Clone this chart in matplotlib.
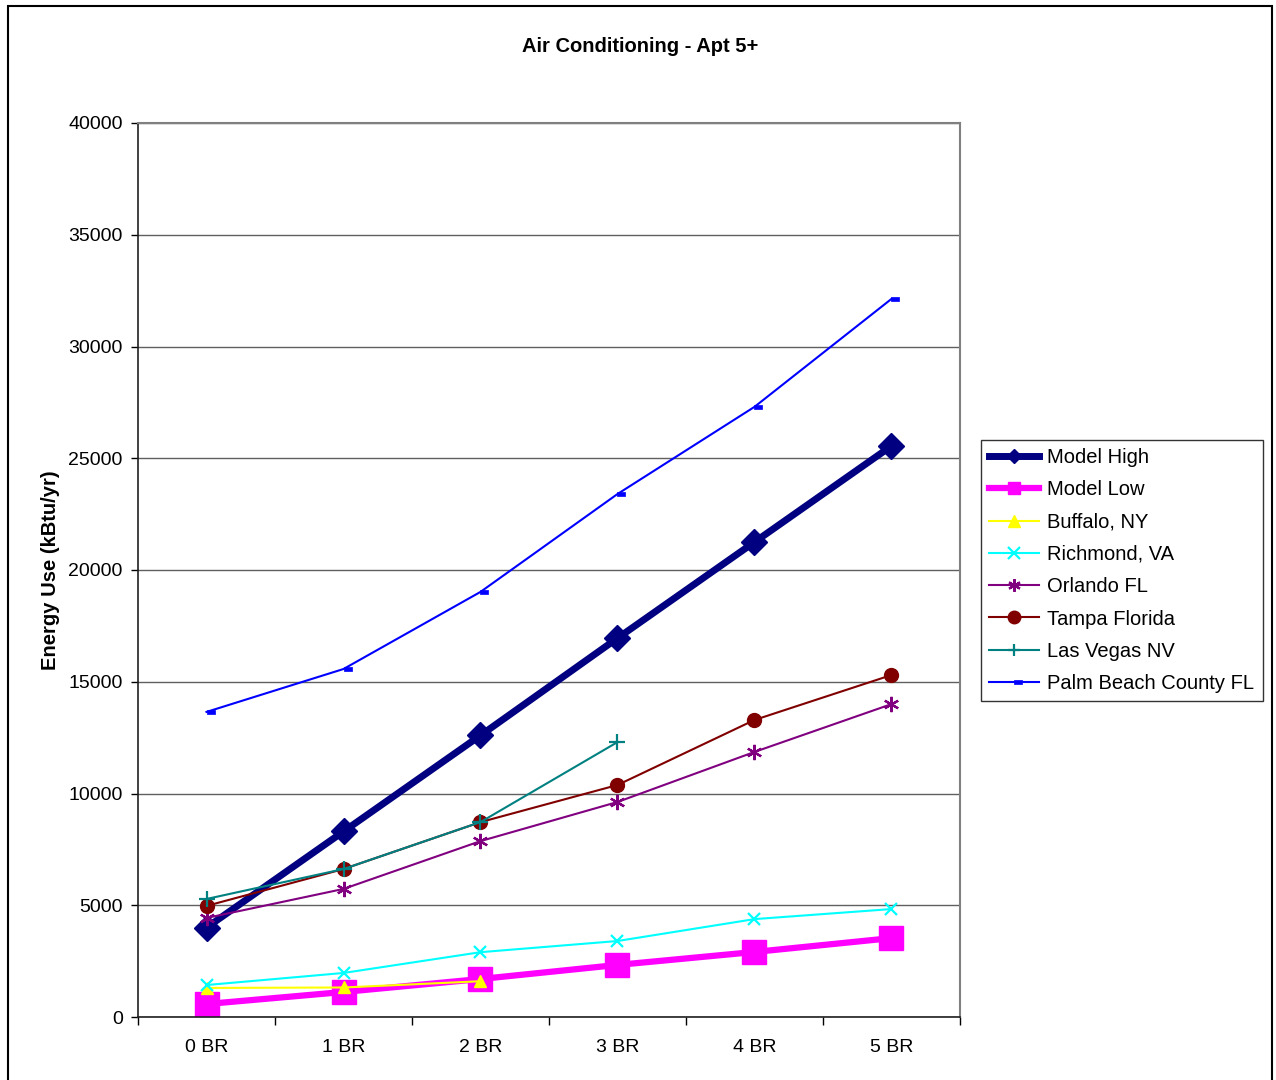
import matplotlib
matplotlib.use("Agg")
from matplotlib import pyplot as plt
from matplotlib.patches import Rectangle
import numpy as np

plt.rcParams['font.family'] = ['Liberation Sans', 'DejaVu Sans']

categories = ['0 BR', '1 BR', '2 BR', '3 BR', '4 BR', '5 BR']

model_high = [4000, 8300, 12600, 16950, 21250, 25550]
model_low = [580, 1120, 1700, 2330, 2910, 3530]
buffalo = [1300, 1320, 1600]
richmond = [1430, 1970, 2900, 3400, 4380, 4830]
orlando = [4430, 5730, 7870, 9620, 11860, 14000]
tampa = [4970, 6620, 8720, 10380, 13290, 15300]
las_vegas = [5280, 6620, 8720, 12300]
palm_beach = [13650, 15570, 19020, 23400, 27300, 32130]

# small bar marker sitting to the right of the point
dash = [(0, -0.3), (1, -0.3), (1, 0.3), (0, 0.3), (0, -0.3)]

# name, values, colour, line width, marker, marker size, edge width, legend marker size
series = [
	('Model High', model_high, '#000080', 5.0, 'D', 13, 1, 7),
	('Model Low', model_low, '#FF00FF', 4.5, 's', 17, 1, 9),
	('Buffalo, NY', buffalo, '#FFFF00', 1.5, '^', 9, 1, 8),
	('Richmond, VA', richmond, '#00FFFF', 1.5, 'x', 9, 1.6, 8),
	('Orlando FL', orlando, '#800080', 1.5, (6, 2, 0), 11, 1.6, 9),
	('Tampa Florida', tampa, '#800000', 1.5, 'o', 10, 1, 9),
	('Las Vegas NV', las_vegas, '#008080', 1.5, '+', 11, 1.6, 9),
	('Palm Beach County FL', palm_beach, '#0000FF', 1.5, dash, 11, 0.5, 11),
]

fig = plt.figure(figsize=(12.76, 10.8), dpi=100)
ax = fig.add_axes([138/1276, 63/1080, 822/1276, 894/1080])

for name, vals, color, lw, marker, ms, mew, lms in series:
	x = np.arange(len(vals))
	ax.plot(x, vals, color=color, lw=lw, marker=marker, markersize=ms,
		markerfacecolor=color, markeredgecolor=color, markeredgewidth=mew,
		label=name, clip_on=False)

ax.set_xlim(-0.5, 5.5)
ax.set_ylim(0, 40000)
ax.set_yticks(np.arange(0, 40001, 5000))
ax.set_xticks(np.arange(6))
ax.set_xticklabels(categories, fontsize=14)
ax.set_xticks(np.arange(-0.5, 6, 1), minor=True)
ax.tick_params(axis='x', which='major', length=0, pad=16)
ax.tick_params(axis='x', which='minor', length=6, width=1, direction='out')
ax.tick_params(axis='y', labelsize=14, length=5, width=1, direction='out', pad=6)
ax.grid(True, axis='y', color='#606060', lw=1)
ax.set_axisbelow(True)

for s in ['top', 'right']:
	ax.spines[s].set_color('#808080')
	ax.spines[s].set_linewidth(1.5)
for s in ['left', 'bottom']:
	ax.spines[s].set_color('#202020')
	ax.spines[s].set_linewidth(1.2)

ax.set_ylabel('Energy Use (kBtu/yr)', fontsize=14.5, fontweight='bold', labelpad=6)
fig.text(640/1276, 1 - 46/1080, 'Air Conditioning - Apt 5+', fontsize=14.5,
	fontweight='bold', ha='center', va='center')

leg = ax.legend(loc='upper left', bbox_to_anchor=(981/1276, 1 - 440/1080),
	bbox_transform=fig.transFigure, fontsize=14.5, frameon=True, fancybox=False,
	edgecolor='black', borderpad=0.4, labelspacing=0.66, handlelength=2.5,
	handletextpad=0.4, borderaxespad=0)
leg.get_frame().set_linewidth(1)
for h, s in zip(leg.legend_handles, series):
	h.set_markersize(s[7])

# outer chart border
fig.patches.append(Rectangle((8/1276, -0.05), 1264/1276, 1.05 - 6/1080,
	transform=fig.transFigure, fill=False, edgecolor='black', lw=1.5))

plt.savefig('out.png')
